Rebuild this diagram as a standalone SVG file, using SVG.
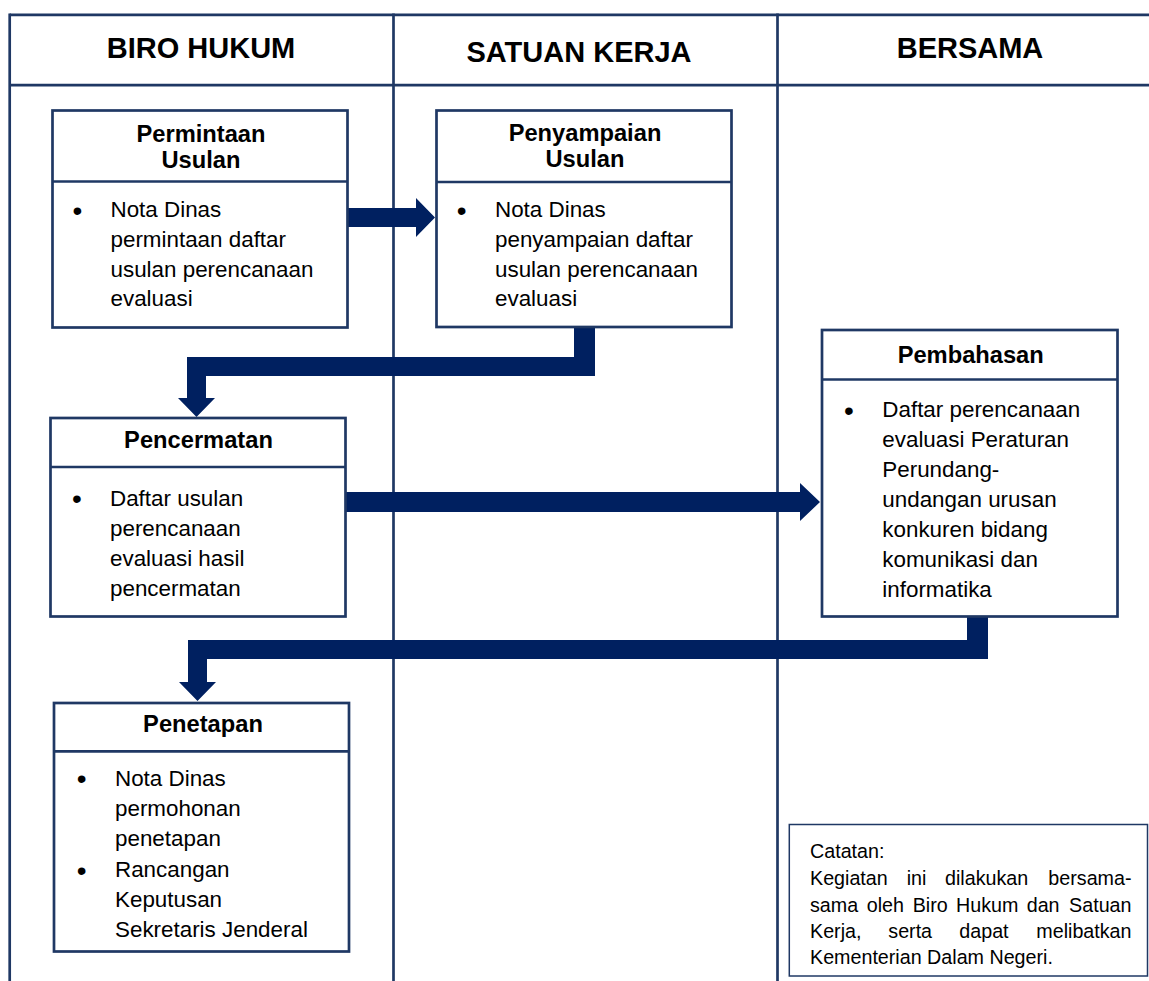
<svg xmlns="http://www.w3.org/2000/svg" width="1149" height="981" viewBox="0 0 1149 981">
<style>
  text { font-family: "Liberation Sans", Arial, sans-serif; fill: #000; }
  .lane { fill: none; stroke: #1F3864; stroke-width: 2.7; }
  .hdr { font-size: 29px; font-weight: bold; text-anchor: middle; }
  .box { fill: #fff; stroke: #1F3864; stroke-width: 2.7; }
  .div { stroke: #1F3864; stroke-width: 2.7; }
  .ttl { font-size: 23.7px; font-weight: bold; text-anchor: middle; }
  .body { font-size: 22.4px; }
  .bul { font-size: 28px; text-anchor: middle; }
  .arrow { fill: #002060; stroke: none; }
  .note { fill: #fff; stroke: #1F3864; stroke-width: 1.5; }
  .ntxt { font-size: 19.7px; }
</style>
<rect width="1149" height="981" fill="#fff"/>
<g id="lanes">
  <line class="lane" x1="9.7" y1="14.8" x2="1149" y2="14.8"/>
  <line class="lane" x1="9.7" y1="85.2" x2="1149" y2="85.2"/>
  <line class="lane" x1="9.7" y1="13.5" x2="9.7" y2="981"/>
  <line class="lane" x1="393.5" y1="13.5" x2="393.5" y2="981"/>
  <line class="lane" x1="777.5" y1="13.5" x2="777.5" y2="981"/>
  <text class="hdr" x="201" y="58">BIRO HUKUM</text>
  <text class="hdr" x="579" y="61.5">SATUAN KERJA</text>
  <text class="hdr" x="970" y="58">BERSAMA</text>
</g>
<g id="connectors">
  <polygon class="arrow" points="347,208 416,208 416,198 435,217.5 416,237 416,227 347,227"/>
  <polygon class="arrow" points="574,326 595,326 595,376 206,376 206,398 215,398 196.5,417 178,398 187,398 187,357 574,357"/>
  <polygon class="arrow" points="346,492 800,492 800,483 820,502 800,521 800,512 346,512"/>
  <polygon class="arrow" points="967,616 988,616 988,659 207,659 207,682 216,682 197.5,701 179,682 188,682 188,640 967,640"/>
</g>
<g id="permintaan">
  <rect class="box" x="52.5" y="110.5" width="295" height="217"/>
  <line class="div" x1="52.5" y1="181.5" x2="347.5" y2="181.5"/>
  <text class="ttl" x="201" y="141.5">Permintaan</text>
  <text class="ttl" x="201" y="167.5">Usulan</text>
  <text class="bul" x="77.3" y="220">•</text>
  <text class="body" x="110.5" y="217">Nota Dinas</text>
  <text class="body" x="110.5" y="247">permintaan daftar</text>
  <text class="body" x="110.5" y="277">usulan perencanaan</text>
  <text class="body" x="110.5" y="306">evaluasi</text>
</g>
<g id="penyampaian">
  <rect class="box" x="436.5" y="110.5" width="295" height="216.5"/>
  <line class="div" x1="436.5" y1="182" x2="731.5" y2="182"/>
  <text class="ttl" x="585" y="141">Penyampaian</text>
  <text class="ttl" x="585" y="167">Usulan</text>
  <text class="bul" x="461.7" y="220">•</text>
  <text class="body" x="495" y="216.5">Nota Dinas</text>
  <text class="body" x="495" y="246.7">penyampaian daftar</text>
  <text class="body" x="495" y="277">usulan perencanaan</text>
  <text class="body" x="495" y="306">evaluasi</text>
</g>
<g id="pencermatan">
  <rect class="box" x="50.5" y="418" width="295" height="198.5"/>
  <line class="div" x1="50.5" y1="467" x2="345.5" y2="467"/>
  <text class="ttl" x="198.5" y="448.3">Pencermatan</text>
  <text class="bul" x="77" y="508">•</text>
  <text class="body" x="110" y="505.5">Daftar usulan</text>
  <text class="body" x="110" y="535.7">perencanaan</text>
  <text class="body" x="110" y="565.9">evaluasi hasil</text>
  <text class="body" x="110" y="596">pencermatan</text>
</g>
<g id="pembahasan">
  <rect class="box" x="822" y="330" width="295.5" height="286.5"/>
  <line class="div" x1="822" y1="379.5" x2="1117.5" y2="379.5"/>
  <text class="ttl" x="970.7" y="362.7">Pembahasan</text>
  <text class="bul" x="849" y="419.5">•</text>
  <text class="body" x="882.3" y="417">Daftar perencanaan</text>
  <text class="body" x="882.3" y="447">evaluasi Peraturan</text>
  <text class="body" x="882.3" y="477.3">Perundang-</text>
  <text class="body" x="882.3" y="507">undangan urusan</text>
  <text class="body" x="882.3" y="537">konkuren bidang</text>
  <text class="body" x="882.3" y="567.2">komunikasi dan</text>
  <text class="body" x="882.3" y="597">informatika</text>
</g>
<g id="penetapan">
  <rect class="box" x="54" y="703" width="295" height="248.5"/>
  <line class="div" x1="54" y1="751.3" x2="349" y2="751.3"/>
  <text class="ttl" x="203" y="731.7">Penetapan</text>
  <text class="bul" x="81.7" y="788">•</text>
  <text class="body" x="115" y="785.7">Nota Dinas</text>
  <text class="body" x="115" y="815.5">permohonan</text>
  <text class="body" x="115" y="845.7">penetapan</text>
  <text class="bul" x="81.7" y="879.5">•</text>
  <text class="body" x="115" y="876.7">Rancangan</text>
  <text class="body" x="115" y="906.7">Keputusan</text>
  <text class="body" x="115" y="936.5">Sekretaris Jenderal</text>
</g>
<g id="catatan">
  <rect class="note" x="789.3" y="824.5" width="358.2" height="151.5"/>
  <text class="ntxt" x="810" y="858.3">Catatan:</text>
  <text class="ntxt" y="885"><tspan x="810">Kegiatan</tspan><tspan x="906.7">ini</tspan><tspan x="945">dilakukan</tspan><tspan x="1131.5" text-anchor="end">bersama-</tspan></text>
  <text class="ntxt" y="911.5"><tspan x="810">sama</tspan><tspan x="866.7">oleh</tspan><tspan x="912.7">Biro</tspan><tspan x="956">Hukum</tspan><tspan x="1026.7">dan</tspan><tspan x="1131.5" text-anchor="end">Satuan</tspan></text>
  <text class="ntxt" y="937.7"><tspan x="810">Kerja,</tspan><tspan x="888.3">serta</tspan><tspan x="959.3">dapat</tspan><tspan x="1131.5" text-anchor="end">melibatkan</tspan></text>
  <text class="ntxt" x="810" y="963.5">Kementerian Dalam Negeri.</text>
</g>
</svg>
